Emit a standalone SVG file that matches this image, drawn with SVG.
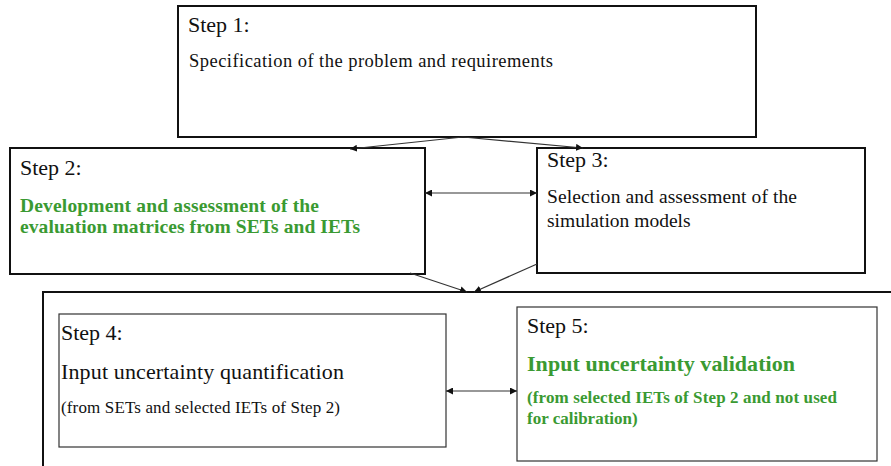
<svg xmlns="http://www.w3.org/2000/svg" width="891" height="466" viewBox="0 0 891 466">
<style>
text{font-family:"Liberation Serif","Times New Roman",serif;fill:#111}
.box{fill:#fff;stroke:#111;stroke-width:2}
.thin{fill:#fff;stroke:#333;stroke-width:1.2}
.lbl{font-size:22px}
.body{font-size:19.5px}
.green{fill:#3a9a32;font-weight:bold}
.con{stroke:#333;stroke-width:1.2;fill:none}
</style>
<defs>
<marker id="ah" viewBox="0 0 10 10" refX="10" refY="5" markerWidth="7" markerHeight="7" markerUnits="userSpaceOnUse" orient="auto-start-reverse">
<path d="M0,0 L10,5 L0,10 z" fill="#111"/>
</marker>
</defs>
<rect width="891" height="466" fill="#fff"/>
<g id="outer">
<rect class="box" x="43" y="292" width="900" height="200"/>
</g>
<g id="step1">
<rect class="box" x="178" y="6" width="578" height="131"/>
<text class="lbl" x="188" y="32">Step 1:</text>
<text x="189" y="67" font-size="18.5" textLength="364" lengthAdjust="spacing">Specification  of the problem and requirements</text>
</g>
<g id="step2">
<rect class="box" x="10" y="148" width="415" height="126"/>
<text class="lbl" x="20" y="175">Step 2:</text>
<text class="body green" x="20" y="212" textLength="299" lengthAdjust="spacing">Development and assessment of the</text>
<text class="body green" x="20" y="233" textLength="340" lengthAdjust="spacing">evaluation matrices from SETs and IETs</text>
</g>
<g id="step3">
<rect class="box" x="537" y="148" width="328" height="125"/>
<text class="lbl" x="547" y="167">Step 3:</text>
<text class="body" x="547" y="203" textLength="250" lengthAdjust="spacing">Selection and assessment  of the</text>
<text class="body" x="547" y="227">simulation models</text>
</g>
<g id="step4">
<rect class="thin" x="59" y="314" width="387" height="133"/>
<text class="lbl" x="61" y="340">Step 4:</text>
<text x="61" y="379" font-size="22" textLength="283" lengthAdjust="spacing">Input uncertainty quantification</text>
<text x="61" y="413" font-size="17" textLength="279" lengthAdjust="spacing">(from SETs and selected IETs of Step 2)</text>
</g>
<g id="step5">
<rect class="thin" x="517" y="307" width="360" height="154"/>
<text class="lbl" x="527" y="333">Step 5:</text>
<text class="green" x="527" y="371" font-size="22" textLength="268" lengthAdjust="spacing">Input uncertainty validation</text>
<text class="green" x="527" y="403" font-size="17" textLength="310" lengthAdjust="spacing">(from selected IETs of Step 2 and not used</text>
<text class="green" x="527" y="424" font-size="17">for calibration)</text>
</g>
<g id="connectors">
<line class="con" x1="463" y1="137" x2="350" y2="149" marker-end="url(#ah)"/>
<line class="con" x1="463" y1="137" x2="583" y2="148" marker-end="url(#ah)"/>
<line class="con" x1="425" y1="193" x2="537" y2="193" marker-start="url(#ah)" marker-end="url(#ah)"/>
<line class="con" x1="410" y1="273" x2="467" y2="292" marker-end="url(#ah)"/>
<line class="con" x1="537" y1="264" x2="474" y2="292" marker-end="url(#ah)"/>
<line class="con" x1="446" y1="391" x2="517" y2="391" marker-start="url(#ah)" marker-end="url(#ah)"/>
</g>
</svg>
